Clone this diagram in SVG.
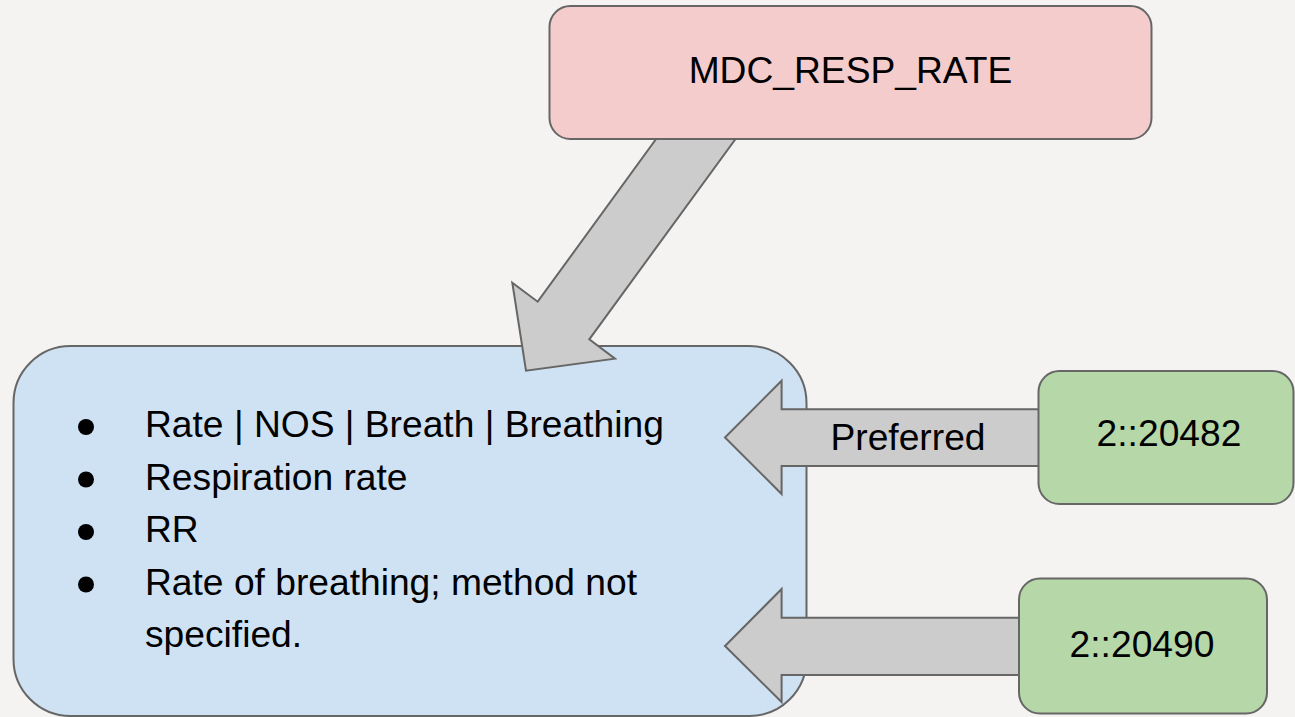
<svg xmlns="http://www.w3.org/2000/svg" width="1295" height="717" viewBox="0 0 1295 717">
<style>
.box{stroke:#666666;stroke-width:2}
.arrow{fill:#cccccc;stroke:#666666;stroke-width:2;stroke-linejoin:miter}
.t{font-family:"Liberation Sans",Arial,sans-serif;font-size:37.2px;fill:#000000}
.c{text-anchor:middle}
</style>
<rect x="0" y="0" width="1295" height="717" fill="#f4f3f1"/>
<g id="node-terms">
<rect class="box" x="13.5" y="346" width="793" height="370" rx="57" ry="57" fill="#cfe2f3"/>
<circle cx="86" cy="427" r="8"/>
<circle cx="86" cy="479.5" r="8"/>
<circle cx="86" cy="532" r="8"/>
<circle cx="86" cy="584.5" r="8"/>
<text class="t" x="145" y="437">Rate | NOS | Breath | Breathing</text>
<text class="t" x="145" y="489.5">Respiration rate</text>
<text class="t" x="145" y="542">RR</text>
<text class="t" x="145" y="594.5">Rate of breathing; method not</text>
<text class="t" x="145" y="647">specified.</text>
</g>
<g id="connectors">
<polygon class="arrow" points="658.3,136 737.7,136 589.3,339.3 615,358.7 526,370.7 512.3,282.7 537.7,301.7"/>
<polygon class="arrow" points="725,437.5 781.6,380.7 781.6,409.3 1045,409.3 1045,466 781.6,466 781.6,494"/>
<text class="t c" x="908" y="450">Preferred</text>
<polygon class="arrow" points="725,646 781.6,589 781.6,617.7 1025,617.7 1025,675 781.6,675 781.6,702"/>
</g>
<g id="node-mdc">
<rect class="box" x="549.5" y="6" width="602" height="133" rx="21" ry="21" fill="#f4cccc"/>
<text class="t c" x="850.5" y="83">MDC_RESP_RATE</text>
</g>
<g id="node-20482">
<rect class="box" x="1038.5" y="371" width="255" height="133" rx="21" ry="21" fill="#b6d7a8"/>
<text class="t c" x="1169" y="446">2::20482</text>
</g>
<g id="node-20490">
<rect class="box" x="1019" y="578.5" width="248" height="135" rx="21" ry="21" fill="#b6d7a8"/>
<text class="t c" x="1142" y="657">2::20490</text>
</g>
</svg>
